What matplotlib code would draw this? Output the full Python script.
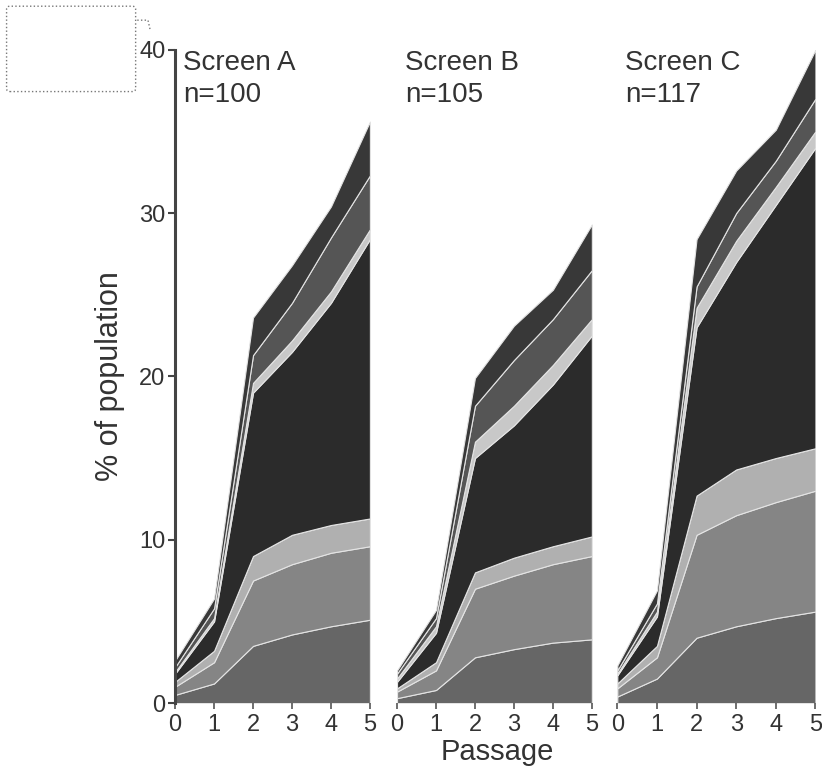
import matplotlib
matplotlib.use("Agg")
import matplotlib.pyplot as plt
from matplotlib.patches import FancyBboxPatch
from matplotlib.lines import Line2D

plt.rcParams['font.family'] = ['Liberation Sans', 'DejaVu Sans']

passage = [0, 1, 2, 3, 4, 5]

# layer thickness (% of population), bottom -> top
screen_a = [
    [0.5, 1.2, 3.5, 4.2, 4.7, 5.1],
    [0.5, 1.3, 4.0, 4.3, 4.5, 4.5],
    [0.3, 0.7, 1.5, 1.8, 1.7, 1.7],
    [0.5, 1.8, 10.0, 11.2, 13.6, 17.1],
    [0.1, 0.2, 0.6, 0.7, 0.7, 0.6],
    [0.3, 0.6, 1.7, 2.3, 3.3, 3.3],
    [0.4, 0.6, 2.3, 2.3, 1.9, 3.3],
]
screen_b = [
    [0.3, 0.8, 2.8, 3.3, 3.7, 3.9],
    [0.4, 1.2, 4.2, 4.5, 4.8, 5.1],
    [0.2, 0.5, 1.0, 1.1, 1.1, 1.2],
    [0.4, 1.8, 7.0, 8.1, 9.9, 12.3],
    [0.2, 0.4, 1.0, 1.2, 1.2, 1.0],
    [0.3, 0.5, 2.2, 2.8, 2.8, 3.0],
    [0.2, 0.5, 1.7, 2.1, 1.8, 2.8],
]
screen_c = [
    [0.4, 1.5, 4.0, 4.7, 5.2, 5.6],
    [0.5, 1.3, 6.3, 6.8, 7.1, 7.4],
    [0.3, 0.7, 2.4, 2.8, 2.7, 2.6],
    [0.5, 1.8, 10.3, 12.7, 15.5, 18.4],
    [0.1, 0.3, 1.2, 1.3, 1.1, 1.0],
    [0.2, 0.5, 1.3, 1.7, 1.6, 2.0],
    [0.3, 0.8, 2.9, 2.6, 1.9, 3.0],
]
titles = ["Screen A\nn=100", "Screen B\nn=105", "Screen C\nn=117"]
greys = ['#666666', '#858585', '#b0b0b0', '#2b2b2b', '#c8c8c8', '#555555', '#383838']

fig = plt.figure(figsize=(8.22, 7.76), dpi=100)

# axes boxes in figure fraction
boxes = [
    [0.213, 0.094, 0.237, 0.842],
    [0.483, 0.094, 0.237, 0.842],
    [0.751, 0.094, 0.241, 0.842],
]

for i, (data, title, box) in enumerate(zip([screen_a, screen_b, screen_c], titles, boxes)):
    ax = fig.add_axes(box)
    ax.stackplot(passage, *data, colors=greys, edgecolor='#e4e4e4', linewidth=0.8)
    ax.set_xlim(0, 5)
    ax.set_ylim(0, 40)
    ax.set_xticks(passage)
    ax.tick_params(axis='x', labelsize=17, length=4, width=1.2, color='#555555',
                   labelcolor='#333333', pad=4)
    for s in ['top', 'right', 'bottom']:
        ax.spines[s].set_visible(False)
    if i == 0:
        ax.spines['left'].set_linewidth(2.2)
        ax.spines['left'].set_color('#444444')
        ax.set_yticks([0, 10, 20, 30, 40])
        ax.tick_params(axis='y', labelsize=17, length=5, width=1.5, color='#444444',
                       labelcolor='#333333', pad=2)
        ax.set_ylabel('% of population', fontsize=22, color='#333333', labelpad=10)
    else:
        ax.spines['left'].set_visible(False)
        ax.set_yticks([])
    ax.text(0.04, 1.0, title, transform=ax.transAxes, ha='left', va='top',
            fontsize=20, color='#333333', linespacing=1.3)

fig.text(0.605, 0.031, 'Passage', ha='center', va='center', fontsize=21, color='#333333')

# empty legend placeholder box in the corner
box_patch = FancyBboxPatch((0.008, 0.882), 0.157, 0.11, boxstyle='round,pad=0,rounding_size=0.004',
                           transform=fig.transFigure, fill=False, linestyle=':',
                           linewidth=1.0, edgecolor='#777777')
fig.patches.append(box_patch)
fig.lines.append(Line2D([0.167, 0.180, 0.183], [0.974, 0.974, 0.960], transform=fig.transFigure,
                        linestyle=':', linewidth=1.0, color='#777777'))

fig.savefig('out.png', dpi=100)
